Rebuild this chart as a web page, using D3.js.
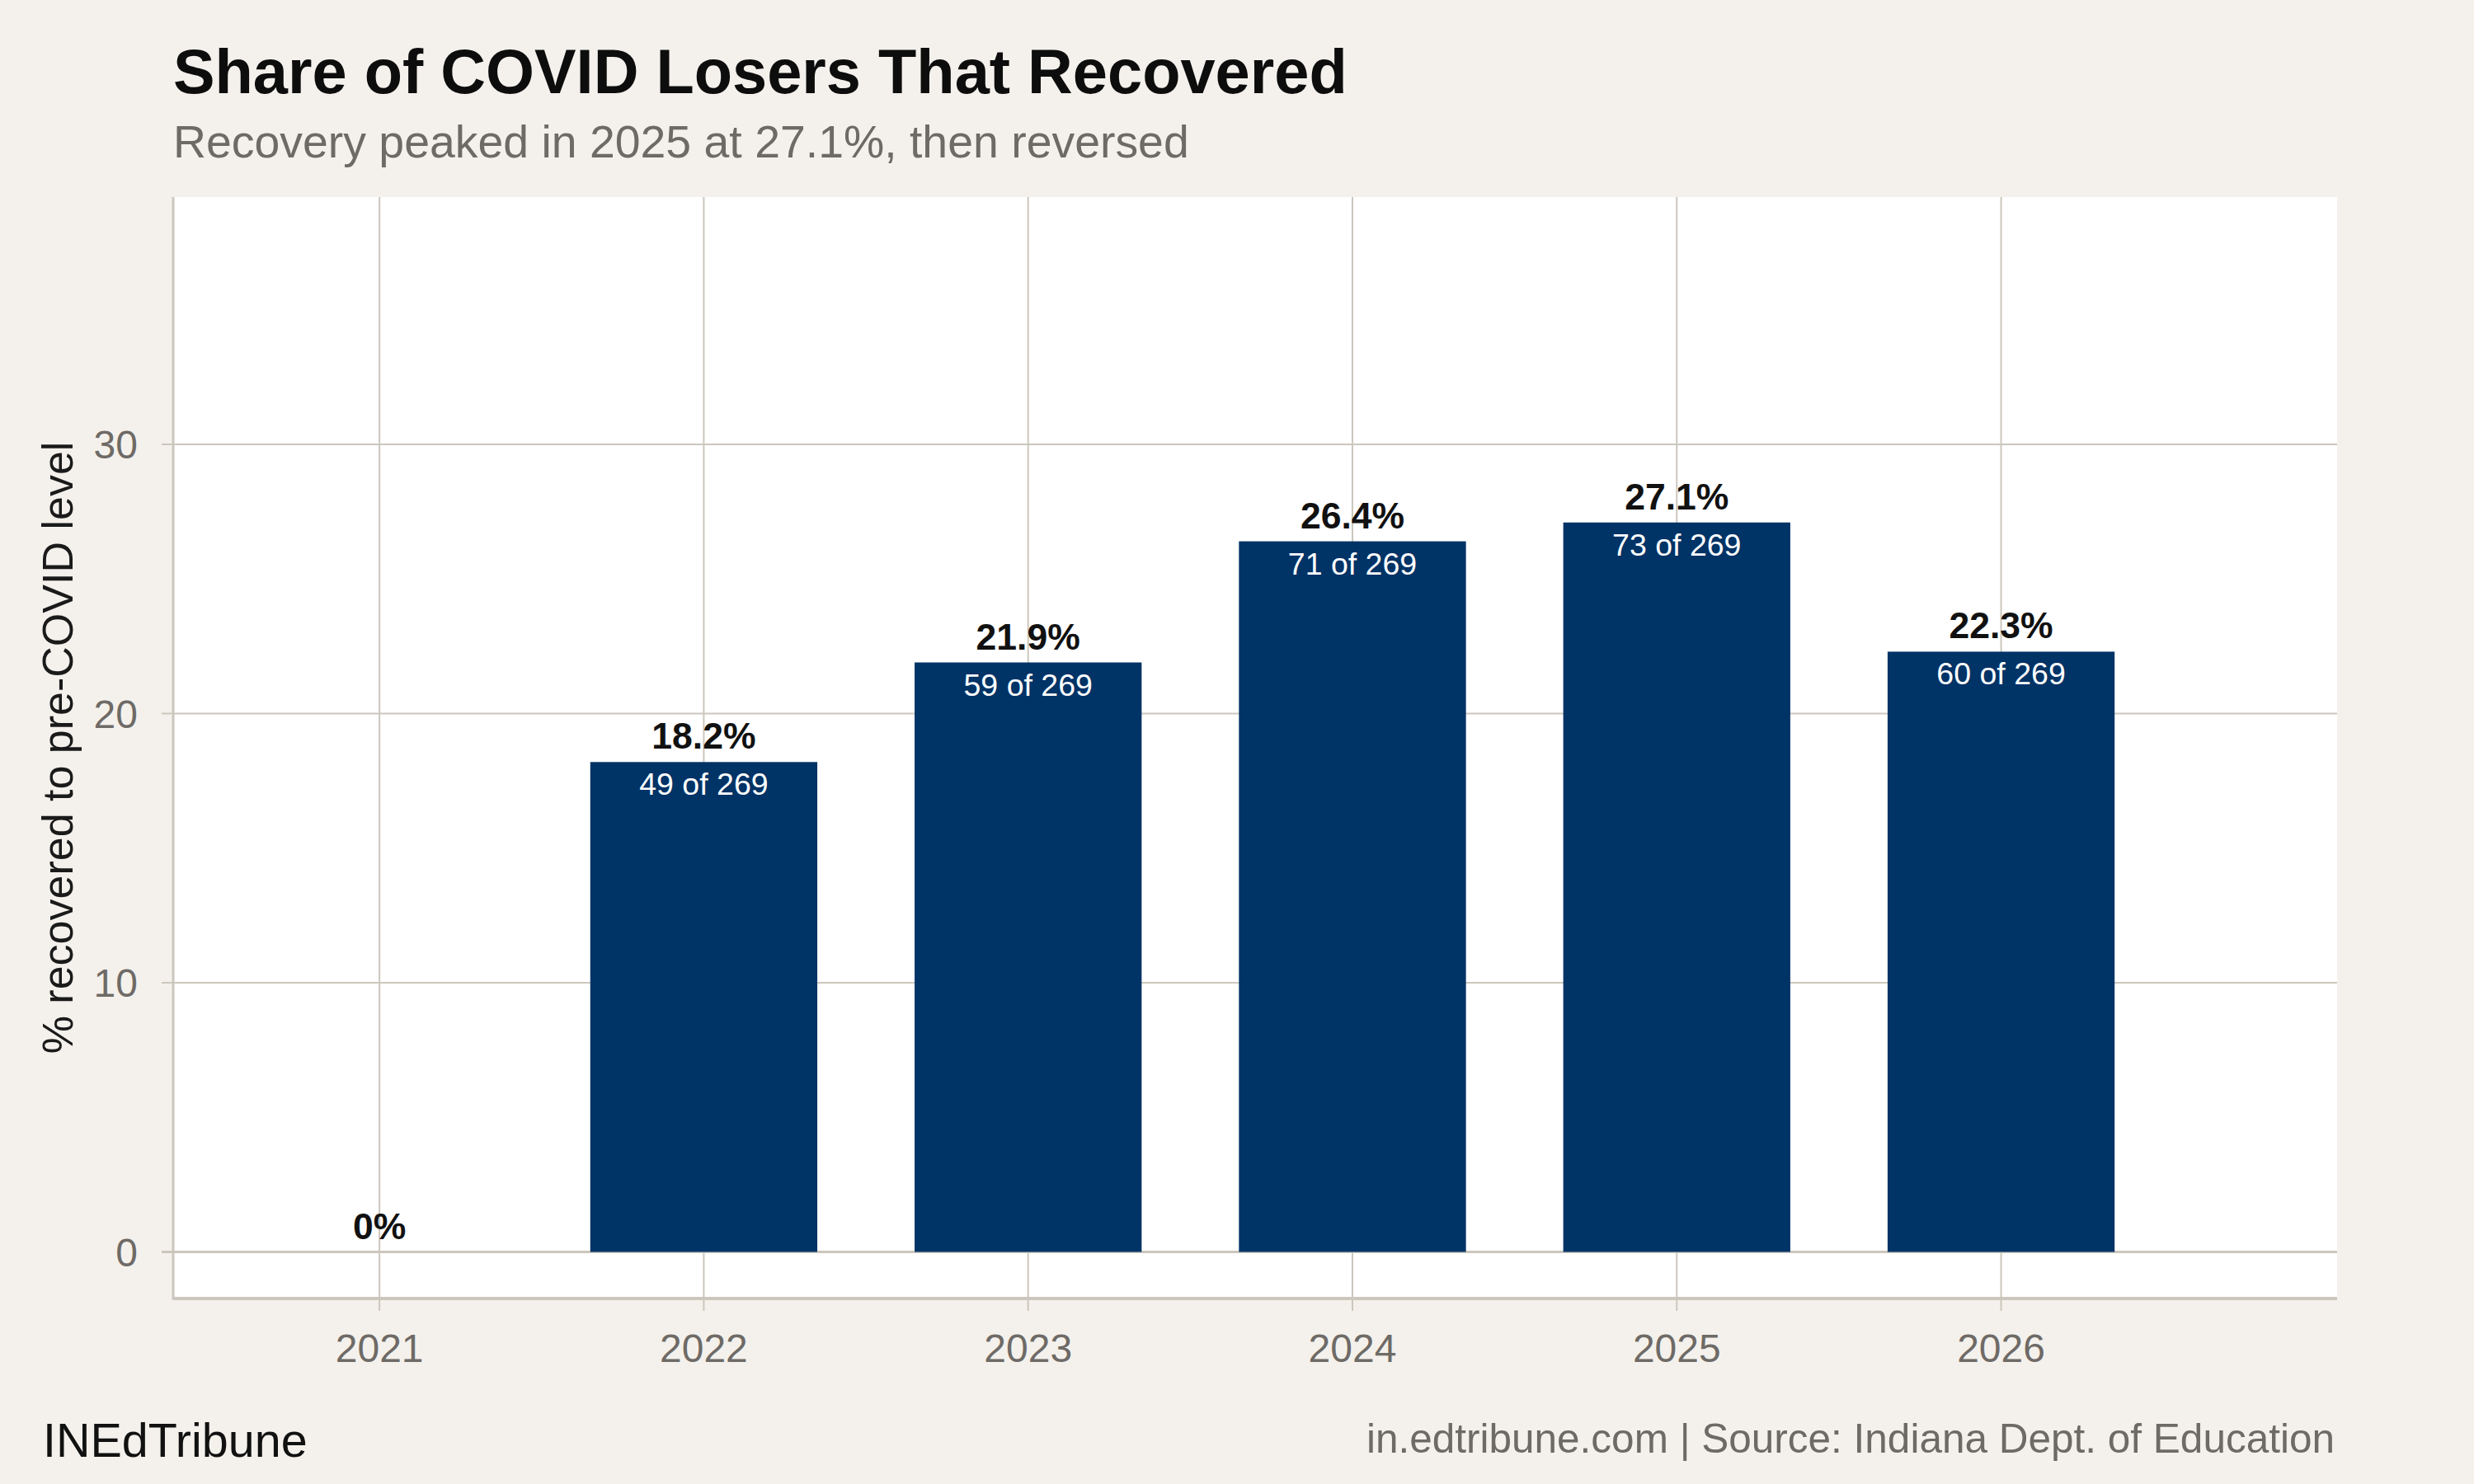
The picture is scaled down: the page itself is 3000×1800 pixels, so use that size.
<!DOCTYPE html>
<html>
<head>
<meta charset="utf-8">
<script src="https://cdn.jsdelivr.net/npm/d3@7"></script>
<style>
  html, body { margin: 0; padding: 0; background: #f4f1ec; }
  svg { display: block; }
  text { font-family: "Liberation Sans", Arial, Helvetica, sans-serif; }
</style>
</head>
<body>
<script>
// ---- data ----
const years = [2021, 2022, 2023, 2024, 2025, 2026];
const pctRecovered = [0, 18.2, 21.9, 26.4, 27.1, 22.3];
const nRecovered = [0, 49, 59, 71, 73, 60];
const nTotal = [269, 269, 269, 269, 269, 269];
const yTicks = [0, 10, 20, 30];

const titleText = "Share of COVID Losers That Recovered";
const subtitleText = "Recovery peaked in 2025 at 27.1%, then reversed";
const yAxisTitle = "% recovered to pre-COVID level";
const footerLeft = "INEdTribune";
const footerRight = "in.edtribune.com | Source: Indiana Dept. of Education";

// ---- layout ----
const W = 3000, H = 1800;
const panel = { left: 210, right: 2834, top: 239, bottom: 1575 };
const gridColor = "#ccc7bd";
const barColor = "#003366";

const svg = d3.select("body").append("svg").attr("width", W).attr("height", H);
svg.append("rect").attr("width", W).attr("height", H).attr("fill", "#f4f1ec");

const x = d3.scaleLinear().domain([2020.364, 2027.036]).range([panel.left, panel.right]);
const y = d3.scaleLinear().domain([-1.73, 39.19]).range([panel.bottom, panel.top]);
const barW = 0.7;

// panel
svg.append("rect")
  .attr("x", panel.left).attr("y", panel.top)
  .attr("width", panel.right - panel.left).attr("height", panel.bottom - panel.top)
  .attr("fill", "#ffffff");

// gridlines
const g = svg.append("g");
g.selectAll("line.hgrid").data(yTicks).join("line")
  .attr("class", "hgrid")
  .attr("x1", panel.left - 14).attr("x2", panel.right)
  .attr("y1", d => y(d)).attr("y2", d => y(d))
  .attr("stroke", gridColor)
  .attr("stroke-width", d => d === 0 ? 3 : 2);
g.selectAll("line.vgrid").data(years).join("line")
  .attr("class", "vgrid")
  .attr("x1", d => x(d)).attr("x2", d => x(d))
  .attr("y1", panel.top).attr("y2", panel.bottom + 15)
  .attr("stroke", gridColor)
  .attr("stroke-width", 2);

// bars
const data = years.map((yr, i) => ({ yr, pct: pctRecovered[i], n: nRecovered[i], tot: nTotal[i] }));
svg.append("g").selectAll("rect").data(data.filter(d => d.pct > 0)).join("rect")
  .attr("x", d => x(d.yr - barW / 2))
  .attr("width", d => x(d.yr + barW / 2) - x(d.yr - barW / 2))
  .attr("y", d => y(d.pct))
  .attr("height", d => y(0) - y(d.pct))
  .attr("fill", barColor);

// axis lines (left and bottom)
svg.append("line")
  .attr("x1", panel.left).attr("x2", panel.left)
  .attr("y1", panel.top).attr("y2", panel.bottom + 1.5)
  .attr("stroke", gridColor).attr("stroke-width", 3);
svg.append("line")
  .attr("x1", panel.left).attr("x2", panel.right)
  .attr("y1", panel.bottom).attr("y2", panel.bottom)
  .attr("stroke", gridColor).attr("stroke-width", 4);

// value labels
svg.append("g").selectAll("text").data(data).join("text")
  .attr("x", d => x(d.yr))
  .attr("y", d => y(d.pct) - 16)
  .attr("text-anchor", "middle")
  .attr("font-size", 44.5).attr("font-weight", "bold").attr("fill", "#111111")
  .text(d => d3.format(".1f")(d.pct).replace(/\.0$/, "") + "%");
svg.append("g").selectAll("text").data(data.filter(d => d.pct > 0)).join("text")
  .attr("x", d => x(d.yr))
  .attr("y", d => y(d.pct) + 40)
  .attr("text-anchor", "middle")
  .attr("font-size", 37.5).attr("fill", "#ffffff")
  .text(d => `${d.n} of ${d.tot}`);

// tick labels
svg.append("g").selectAll("text").data(yTicks).join("text")
  .attr("x", 167).attr("y", d => y(d))
  .attr("dy", "0.36em")
  .attr("text-anchor", "end")
  .attr("font-size", 48).attr("fill", "#6e6a66")
  .text(d => d);
svg.append("g").selectAll("text").data(years).join("text")
  .attr("x", d => x(d)).attr("y", 1652)
  .attr("text-anchor", "middle")
  .attr("font-size", 48).attr("fill", "#6e6a66")
  .text(d => d);

// axis title
svg.append("text")
  .attr("transform", `translate(88, ${(panel.top + panel.bottom) / 2}) rotate(-90)`)
  .attr("text-anchor", "middle")
  .attr("font-size", 52).attr("fill", "#1a1a1a")
  .text(yAxisTitle);

// title / subtitle
svg.append("text").attr("x", 210).attr("y", 113)
  .attr("font-size", 75.8).attr("font-weight", "bold").attr("fill", "#0d0d0d")
  .text(titleText);
svg.append("text").attr("x", 210).attr("y", 191)
  .attr("font-size", 55.4).attr("fill", "#6e6a66")
  .text(subtitleText);

// footer
svg.append("text").attr("x", 52).attr("y", 1767)
  .attr("font-size", 57.5).attr("fill", "#111111")
  .text(footerLeft);
svg.append("text").attr("x", 2831).attr("y", 1762)
  .attr("text-anchor", "end")
  .attr("font-size", 49.5).attr("fill", "#6e6a66")
  .text(footerRight);
</script>
</body>
</html>
